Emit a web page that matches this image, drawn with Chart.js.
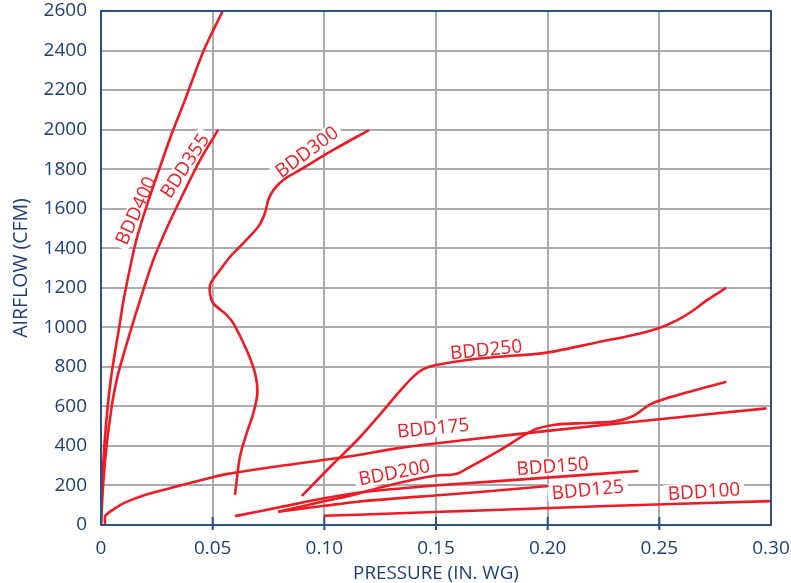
<!DOCTYPE html>
<html>
<head>
<meta charset="utf-8">
<script src="https://cdn.jsdelivr.net/npm/chart.js@4.4.1/dist/chart.umd.min.js"></script>
<style>
html,body{margin:0;padding:0;background:#fff;}
#wrap{width:791px;height:583px;position:relative;}
</style>
</head>
<body>
<div id="wrap"><canvas id="c" width="791" height="583"></canvas></div>
<script>
// ---- data (pressure in. wg, airflow cfm) ----
const xTickLabels = ['0','0.05','0.10','0.15','0.20','0.25','0.30'];
const seriesNames = ['BDD400','BDD355','BDD300','BDD250','BDD200','BDD175','BDD150','BDD125','BDD100'];

const bdd400P = [0, 0.0005, 0.0015, 0.003, 0.0045, 0.0062, 0.008, 0.010, 0.013, 0.016, 0.0212, 0.0264, 0.0317, 0.0376, 0.046, 0.0545];
const bdd400F = [0, 194, 400, 600, 745, 870, 990, 1130, 1300, 1450, 1640, 1810, 1980, 2150, 2400, 2600];

const bdd355P = [0, 0.0009, 0.0025, 0.0048, 0.007, 0.0085, 0.0137, 0.0175, 0.0234, 0.0294, 0.0369, 0.0443, 0.0525];
const bdd355F = [0, 194, 400, 600, 733, 800, 1000, 1138, 1340, 1500, 1678, 1845, 2000];

const bdd300P = [0.060, 0.0622, 0.0652, 0.0682, 0.0700, 0.0690, 0.0652, 0.0593, 0.0563, 0.0503, 0.0488, 0.0491, 0.0533, 0.0578, 0.0622, 0.0704, 0.0734, 0.0749, 0.0772, 0.0816, 0.0891, 0.104, 0.120];
const bdd300F = [152, 345, 464, 565, 666, 767, 885, 1020, 1062, 1121, 1172, 1222, 1290, 1357, 1408, 1509, 1577, 1644, 1694, 1745, 1796, 1897, 1998];

const bdd250P = [0.0899, 0.104, 0.1152, 0.125, 0.134, 0.140, 0.1443, 0.1496, 0.1638, 0.1787, 0.1996, 0.2235, 0.2384, 0.2496, 0.2578, 0.2645, 0.2712, 0.2799];
const bdd250F = [147, 310, 435, 560, 680, 752, 788, 808, 835, 851, 872, 927, 961, 995, 1035, 1080, 1136, 1199];

const bdd200P = [0.0793, 0.1003, 0.1115, 0.1264, 0.1414, 0.1503, 0.159, 0.1638, 0.1787, 0.1936, 0.2026, 0.213, 0.2294, 0.2384, 0.2459, 0.2533, 0.280];
const bdd200F = [67, 121, 148, 194, 233, 250, 258, 285, 379, 480, 506, 514, 523, 552, 610, 641, 725];

const bdd175P = [0.0018, 0.002, 0.0063, 0.0107, 0.0197, 0.0346, 0.0503, 0.0555, 0.08, 0.11, 0.134, 0.163, 0.20, 0.25, 0.298];
const bdd175F = [5, 47, 84, 113, 152, 197, 243, 256, 298, 345, 390, 430, 476, 535, 590];

const bdd150P = [0.06, 0.08, 0.10, 0.115, 0.134, 0.1523, 0.1966, 0.2406];
const bdd150F = [45, 90, 135, 163, 185, 202, 237, 273];

const bdd125P = [0.0793, 0.10, 0.115, 0.1523, 0.1697, 0.2004];
const bdd125F = [67, 97, 118, 152, 167, 197];

const bdd100P = [0.0997, 0.115, 0.1523, 0.1697, 0.2265, 0.30];
const bdd100F = [47, 52, 67, 73, 96, 121];

// ---- label placement (data coords + rotation) ----
const labelAtP   = [0.0155, 0.0375, 0.0921, 0.1724, 0.1313, 0.1487, 0.2022, 0.2179, 0.270];
const labelAtF   = [1590, 1817, 1888, 888, 266, 491, 298, 179, 170];
const labelAngle = [-65.8, -56.7, -36.4, -6, -11, -5.6, -4.2, -5.5, -3.8];

const RED = '#ed1c24';
const NAVY = '#1d3f76';
const BORDER = '#2b5088';
const GRID = '#a9abae';

function pts(P, F){ return P.map((p,i)=>({x:p, y:F[i]})); }
const allSeries = [
  [bdd400P,bdd400F],[bdd355P,bdd355F],[bdd300P,bdd300F],[bdd250P,bdd250F],
  [bdd200P,bdd200F],[bdd175P,bdd175F],[bdd150P,bdd150F],[bdd125P,bdd125F],[bdd100P,bdd100F]
];
const datasets = allSeries.map((s,i)=>({
  label: seriesNames[i],
  data: pts(s[0], s[1]),
  showLine: true,
  borderColor: RED,
  borderWidth: 2.6,
  pointRadius: 0,
  tension: 0.3,
  fill: false
}));

const FONT = '"Open Sans", "Noto Sans", sans-serif';

const curveLabels = {
  id: 'curveLabels',
  beforeDatasetsDraw(chart){
    const {ctx, scales:{x, y}, chartArea} = chart;
    ctx.save();
    ctx.strokeStyle = BORDER;
    ctx.lineWidth = 2;
    for (let i = 1; i < xTickLabels.length - 1; i++) {
      const px = x.getPixelForValue(i * 0.05);
      ctx.beginPath();
      ctx.moveTo(px, chartArea.bottom - 8);
      ctx.lineTo(px, chartArea.bottom + 5);
      ctx.stroke();
    }
    ctx.restore();
    ctx.save();
    ctx.font = '19px ' + FONT;
    seriesNames.forEach((name, i) => {
      const px = x.getPixelForValue(labelAtP[i]);
      const py = y.getPixelForValue(labelAtF[i]);
      ctx.save();
      ctx.translate(px, py);
      ctx.rotate(labelAngle[i] * Math.PI / 180);
      const w = ctx.measureText(name).width;
      ctx.fillStyle = '#fff';
      ctx.fillRect(-w/2 - 4, -9, w + 8, 18);
      ctx.fillStyle = RED;
      ctx.textAlign = 'center';
      ctx.textBaseline = 'middle';
      ctx.fillText(name, 0, 1);
      ctx.restore();
    });
    ctx.restore();
  },
  afterDatasetsDraw(chart){
    const {ctx, chartArea:a} = chart;
    ctx.save();
    ctx.strokeStyle = BORDER;
    ctx.lineWidth = 2;
    ctx.strokeRect(a.left, a.top, a.right - a.left, a.bottom - a.top);
    ctx.restore();
  }
};

new Chart(document.getElementById('c'), {
  type: 'scatter',
  data: { datasets },
  options: {
    responsive: false,
    animation: false,
    devicePixelRatio: 1,
    layout: { padding: { top: 11, right: 20, left: 0, bottom: 0 } },
    plugins: { legend: { display: false }, tooltip: { enabled: false } },
    scales: {
      x: {
        type: 'linear', min: 0, max: 0.30,
        afterFit(s){ s.height = 58; s.paddingLeft = 0; s.paddingRight = 0; },
        ticks: {
          stepSize: 0.05, color: NAVY, padding: 12,
          font: { family: FONT, size: 19 },
          callback: (v) => { const k = Math.round(v / 0.05); return xTickLabels[k]; }
        },
        grid: { color: GRID, lineWidth: 2, drawTicks: false },
        border: { display: false },
        title: { display: true, text: 'PRESSURE (IN. WG)', color: NAVY, font: { family: FONT, size: 18.8, lineHeight: 1.0 }, padding: { top: 4, bottom: 0 } }
      },
      y: {
        type: 'linear', min: 0, max: 2600,
        afterFit(s){ s.width = 101; s.paddingTop = 0; s.paddingBottom = 0; },
        ticks: {
          stepSize: 200, color: NAVY, padding: 14,
          font: { family: FONT, size: 19 },
          callback: (v) => String(v)
        },
        grid: { color: GRID, lineWidth: 2, drawTicks: false },
        border: { display: false },
        title: { display: true, text: 'AIRFLOW (CFM)', color: NAVY, font: { family: FONT, size: 19.5 }, padding: { top: 10, bottom: 0 } }
      }
    }
  },
  plugins: [curveLabels]
});
</script>
</body>
</html>
